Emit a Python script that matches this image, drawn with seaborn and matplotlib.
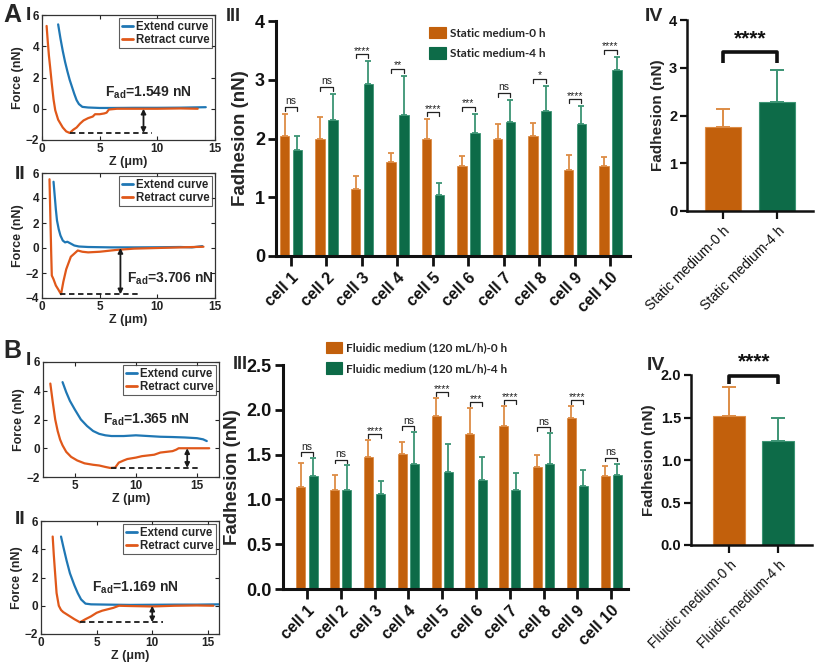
import numpy as np
import pandas as pd
import matplotlib
matplotlib.use('Agg')
import matplotlib.pyplot as plt
import seaborn as sns
from matplotlib.patches import Patch
from matplotlib.lines import Line2D

sns.set_theme(style='ticks', context='paper')
plt.rcParams['font.family'] = ['Liberation Sans', 'DejaVu Sans']
plt.rcParams['mathtext.fontset'] = 'custom'
plt.rcParams['mathtext.rm'] = 'Liberation Sans'
plt.rcParams['mathtext.bf'] = 'Liberation Sans:bold'
plt.rcParams['mathtext.it'] = 'Liberation Sans:italic'

# ---------------- data ----------------
# Force curves (Z in um, Force in nN)
ai_ext_z = [1.4, 1.6, 1.8, 2.0, 2.2, 2.4, 2.6, 2.8, 3.0, 3.2, 3.5, 4.0, 5.0, 6.0, 8.0, 10.0, 12.0, 14.2]
ai_ext_f = [5.4, 4.5, 3.7, 3.0, 2.4, 1.85, 1.4, 0.95, 0.55, 0.3, 0.12, 0.08, 0.05, 0.05, 0.06, 0.06, 0.07, 0.1]
ai_ret_z = [0.4, 0.5, 0.6, 0.7, 0.85, 1.0, 1.15, 1.4, 1.8, 2.1, 2.4, 2.7, 3.0, 3.3, 3.6, 4.0, 4.4, 4.6, 5.0, 5.4, 5.6, 5.8, 6.5, 8.0, 10.0, 12.0, 13.5]
ai_ret_f = [5.3, 4.3, 3.4, 2.7, 1.6, 0.6, -0.1, -0.7, -1.2, -1.45, -1.55, -1.35, -1.2, -0.95, -0.75, -0.6, -0.5, -0.35, -0.35, -0.3, -0.25, -0.05, 0.0, 0.0, 0.0, 0.02, 0.0]
ai_fad = 1.549

aii_ext_z = [1.0, 1.1, 1.2, 1.3, 1.45, 1.6, 1.8, 2.0, 2.2, 2.5, 2.8, 3.2, 4.0, 6.0, 8.0, 10.0, 12.0, 13.0, 13.9]
aii_ext_f = [5.3, 4.2, 3.1, 2.2, 1.5, 1.0, 0.6, 0.45, 0.5, 0.35, 0.2, 0.12, 0.08, 0.05, 0.05, 0.06, 0.08, 0.05, 0.15]
aii_ret_z = [0.65, 0.7, 0.75, 0.8, 0.85, 1.0, 1.2, 1.4, 1.65, 1.85, 2.1, 2.3, 2.5, 2.8, 3.1, 3.5, 4.0, 5.0, 5.5, 6.5, 8.0, 10.0, 12.0, 14.0]
aii_ret_f = [5.5, 3.5, 1.5, -0.5, -2.2, -2.5, -3.0, -3.3, -3.7, -2.7, -1.7, -1.2, -0.7, -0.45, -0.2, -0.3, -0.35, -0.3, -0.25, -0.15, -0.05, 0.0, 0.05, 0.1]
aii_fad = 3.706

bi_ext_z = [4.0, 4.3, 4.6, 5.0, 5.5, 6.0, 6.5, 7.0, 7.5, 8.0, 9.0, 10.0, 11.0, 12.0, 13.0, 14.0, 15.0, 15.5, 15.8]
bi_ext_f = [4.6, 3.9, 3.3, 2.7, 2.0, 1.55, 1.2, 1.0, 0.9, 0.85, 0.85, 0.9, 0.85, 0.8, 0.78, 0.75, 0.7, 0.62, 0.5]
bi_ret_z = [3.0, 3.2, 3.4, 3.6, 3.8, 4.0, 4.3, 4.7, 5.2, 5.8, 6.5, 7.0, 7.5, 7.9, 8.3, 8.6, 9.0, 9.3, 10.0, 10.5, 11.0, 11.5, 12.0, 12.5, 13.0, 13.3, 13.5, 14.0, 16.0]
bi_ret_f = [4.5, 3.2, 2.0, 1.2, 0.6, 0.2, -0.25, -0.6, -0.85, -1.05, -1.15, -1.2, -1.3, -1.37, -1.35, -1.0, -0.85, -0.75, -0.65, -0.55, -0.5, -0.45, -0.3, -0.25, -0.2, -0.1, 0.0, 0.0, 0.0]
bi_fad = 1.365

bii_ext_z = [1.8, 2.0, 2.3, 2.6, 3.0, 3.3, 3.6, 4.0, 4.5, 6.0, 8.0, 10.0, 12.0, 14.0, 16.0]
bii_ext_f = [4.9, 4.2, 3.2, 2.3, 1.45, 0.9, 0.45, 0.15, 0.1, 0.08, 0.06, 0.07, 0.08, 0.08, 0.1]
bii_ret_z = [1.05, 1.15, 1.25, 1.4, 1.6, 1.8, 2.0, 2.5, 3.0, 3.5, 4.0, 4.5, 5.0, 5.5, 6.0, 6.5, 7.0, 8.0, 10.0, 12.0, 14.0, 15.5]
bii_ret_f = [4.9, 3.6, 2.5, 0.9, 0.0, -0.3, -0.45, -0.7, -0.95, -1.17, -0.95, -0.75, -0.5, -0.35, -0.25, -0.15, 0.0, -0.02, -0.05, 0.0, 0.02, 0.0]
bii_fad = 1.169

# Bar charts
cells = ['cell 1', 'cell 2', 'cell 3', 'cell 4', 'cell 5', 'cell 6', 'cell 7', 'cell 8', 'cell 9', 'cell 10']

static_labels = ['Static medium-0 h', 'Static medium-4 h']
static_0h_mean = [2.05, 2.00, 1.14, 1.60, 2.00, 1.53, 2.00, 2.05, 1.47, 1.54]
static_0h_sd = [0.37, 0.37, 0.22, 0.16, 0.33, 0.17, 0.24, 0.22, 0.25, 0.14]
static_4h_mean = [1.80, 2.32, 2.93, 2.40, 1.04, 2.10, 2.28, 2.47, 2.25, 3.16]
static_4h_sd = [0.24, 0.44, 0.39, 0.67, 0.20, 0.32, 0.38, 0.43, 0.30, 0.23]
static_sig = ['ns', 'ns', '****', '**', '****', '***', 'ns', '*', '****', '****']

fluidic_labels = ['Fluidic medium (120 mL/h)-0 h', 'Fluidic medium (120 mL/h)-4 h']
fluidic_0h_mean = [1.14, 1.11, 1.47, 1.51, 1.93, 1.73, 1.82, 1.36, 1.91, 1.26]
fluidic_0h_sd = [0.27, 0.16, 0.19, 0.13, 0.20, 0.29, 0.22, 0.13, 0.13, 0.11]
fluidic_4h_mean = [1.26, 1.11, 1.06, 1.39, 1.31, 1.22, 1.10, 1.40, 1.15, 1.27]
fluidic_4h_sd = [0.20, 0.27, 0.14, 0.36, 0.31, 0.25, 0.20, 0.34, 0.18, 0.13]
fluidic_sig = ['ns', 'ns', '****', 'ns', '****', '***', '****', 'ns', '****', 'ns']

static_sum_labels = ['Static medium-0 h', 'Static medium-4 h']
static_sum_mean = [1.75, 2.29]
static_sum_sd = [0.39, 0.66]
static_sum_sig = '****'

fluidic_sum_labels = ['Fluidic medium-0 h', 'Fluidic medium-4 h']
fluidic_sum_mean = [1.52, 1.22]
fluidic_sum_sd = [0.34, 0.27]
fluidic_sum_sig = '****'

# ---------------- style ----------------
BLUE = '#1F77B4'
ORANGE_L = '#E0581A'
OR = '#C2600C'
GR = '#0D6B48'
OR_E = '#DD8C45'
GR_E = '#3C9474'

W, H = 817, 666
fig = plt.figure(figsize=(W / 100, H / 100), dpi=100)


def rect(l, t, r, b):
    return [l / W, 1 - b / H, (r - l) / W, (b - t) / H]


def force_panel(r, ez, ef, rz, rf, fad, xlim, ylim, xticks, yticks,
                dash_z, arrow_z, text_xy):
    ax = fig.add_axes(rect(*r))
    sns.lineplot(x=ez, y=ef, color=BLUE, lw=1.6, sort=False, estimator=None, ax=ax)
    sns.lineplot(x=rz, y=rf, color=ORANGE_L, lw=1.6, sort=False, estimator=None, ax=ax)
    ax.set_xlim(xlim)
    ax.set_ylim(ylim)
    ax.set_xticks(xticks)
    ax.set_yticks(yticks)
    ax.tick_params(direction='in', top=True, right=True, length=3, width=0.8,
                   labelsize=8.5, pad=2, colors='#222')
    for lab in ax.get_xticklabels() + ax.get_yticklabels():
        lab.set_fontweight('bold')
    for s in ax.spines.values():
        s.set_visible(True)
        s.set_linewidth(0.9)
        s.set_color('#333')
    ax.set_xlabel('Z (μm)', fontweight='bold', fontsize=9, labelpad=1)
    ax.set_ylabel('Force (nN)', fontweight='bold', fontsize=9, labelpad=1)
    handles = [Line2D([], [], color=BLUE, lw=2, label='Extend curve'),
               Line2D([], [], color=ORANGE_L, lw=2, label='Retract curve')]
    leg = ax.legend(handles=handles, loc='upper right', frameon=True, fancybox=False,
                    borderpad=0.2, labelspacing=0.1, handlelength=1.0, handletextpad=0.2,
                    borderaxespad=0.3, prop=dict(weight='bold', size=8.3))
    leg.get_frame().set_edgecolor('#333')
    leg.get_frame().set_linewidth(0.8)
    ax.plot(dash_z, [-fad, -fad], color='k', lw=1.3, ls=(0, (3, 2)))
    ax.annotate('', xy=(arrow_z, 0), xytext=(arrow_z, -fad),
                arrowprops=dict(arrowstyle='<|-|>', color='k', lw=1.3,
                                mutation_scale=7, shrinkA=0, shrinkB=0))
    ax.text(text_xy[0], text_xy[1], r'$\mathbf{F_{ad}}$=' + f'{fad:.3f} nN',
            fontweight='bold', fontsize=10, ha='left', va='center')
    return ax


force_panel((42, 15, 215, 140), ai_ext_z, ai_ext_f, ai_ret_z, ai_ret_f, ai_fad,
            (0, 15), (-2, 6), [0, 5, 10, 15], [-2, 0, 2, 4, 6],
            (2.4, 9.5), 8.8, (5.5, 1.0))
force_panel((42, 173, 215, 298), aii_ext_z, aii_ext_f, aii_ret_z, aii_ret_f, aii_fad,
            (0, 15), (-4, 6), [0, 5, 10, 15], [-4, -2, 0, 2, 4, 6],
            (1.6, 8.5), 6.8, (7.4, -2.5))
force_panel((43, 362, 219, 477), bi_ext_z, bi_ext_f, bi_ret_z, bi_ret_f, bi_fad,
            (2.4, 16.8), (-2, 6), [5, 10, 15], [-2, 0, 2, 4, 6],
            (8.0, 15.2), 14.2, (7.3, 2.0))
force_panel((41, 521, 219, 634), bii_ext_z, bii_ext_f, bii_ret_z, bii_ret_f, bii_fad,
            (0, 16), (-2, 6), [0, 5, 10, 15], [-2, 0, 2, 4, 6],
            (3.5, 11.0), 10.0, (4.6, 1.3))


def style_bar_axes(ax, ylw=2.2):
    sns.despine(ax=ax)
    for s in ['left', 'bottom']:
        ax.spines[s].set_linewidth(ylw)
        ax.spines[s].set_color('#111')


def bar_panel(r, m0, s0, m4, s4, sig, labs, ylim, yticks, yfmt, xlim, bracket_off, legend_anchor):
    ax = fig.add_axes(rect(*r))
    n = len(cells)
    df = pd.DataFrame({'cell': cells + cells,
                       'cond': [labs[0]] * n + [labs[1]] * n,
                       'val': m0 + m4})
    sns.barplot(data=df, x='cell', y='val', hue='cond', palette=[OR, GR], saturation=1,
                errorbar=None, width=0.72, gap=0.26, legend=False, ax=ax)
    centers = []
    for cont, means, sds, col, ecol in zip(ax.containers, [m0, m4], [s0, s4], [OR, GR], [OR_E, GR_E]):
        xs = []
        for p in cont:
            p.set_edgecolor(ecol)
            p.set_linewidth(0.6)
            xs.append(p.get_x() + p.get_width() / 2)
        centers.append(xs)
        ax.errorbar(xs, means, yerr=[np.zeros(n), sds], fmt='none', ecolor=ecol,
                    elinewidth=1.3, capsize=2.4, capthick=1.3, zorder=1)
    for i in range(n):
        top = max(m0[i] + s0[i], m4[i] + s4[i]) + bracket_off
        x1, x2 = centers[0][i], centers[1][i]
        h = bracket_off * 0.6
        ax.plot([x1, x1, x2, x2], [top - h, top, top, top - h], color='#222', lw=0.9, clip_on=False)
        if sig[i] == 'ns':
            ax.text((x1 + x2) / 2, top + bracket_off * 0.1, 'ns', ha='center', va='bottom',
                    fontsize=7.5, color='#222')
        else:
            ax.text((x1 + x2) / 2, top - bracket_off * 0.25, sig[i], ha='center', va='bottom',
                    fontsize=7.5, color='#222')
    ax.set_xlim(xlim)
    ax.set_ylim(ylim)
    ax.set_yticks(yticks)
    ax.set_yticklabels([yfmt.format(v) for v in yticks], fontweight='bold', fontsize=13)
    ax.set_xticks(range(n))
    ax.set_xticklabels(cells, rotation=45, ha='right', rotation_mode='anchor',
                       fontweight='bold', fontsize=11.5)
    ax.tick_params(axis='x', length=7, width=2, pad=3, colors='#111')
    ax.tick_params(axis='y', length=6, width=2, pad=2, colors='#111')
    ax.set_xlabel('')
    ax.set_ylabel('Fadhesion (nN)', fontweight='bold', fontsize=13.5, labelpad=4)
    style_bar_axes(ax)
    handles = [Patch(facecolor=OR, edgecolor=OR, label=labs[0]),
               Patch(facecolor=GR, edgecolor=GR, label=labs[1])]
    ax.legend(handles=handles, loc='upper left', bbox_to_anchor=legend_anchor, frameon=False,
              handlelength=1.4, handleheight=1.1, labelspacing=0.75, handletextpad=0.35,
              borderaxespad=0, prop=dict(weight='bold', size=8.5, family='Lato'))
    return ax


bar_panel((276, 21, 630, 256), static_0h_mean, static_0h_sd, static_4h_mean, static_4h_sd,
          static_sig, static_labels, (0, 4), [0, 1, 2, 3, 4], '{:.0f}', (-0.42, 9.55), 0.12,
          (0.42, 0.995))
bar_panel((283, 365, 628, 589), fluidic_0h_mean, fluidic_0h_sd, fluidic_4h_mean, fluidic_4h_sd,
          fluidic_sig, fluidic_labels, (0, 2.5), [0, 0.5, 1.0, 1.5, 2.0, 2.5], '{:.1f}',
          (-0.71, 9.5), 0.065, (0.11, 1.125))


def summary_panel(r, labels, means, sds, sig, ylim, yticks, yfmt, xlim, br_y, br_h, star_y):
    ax = fig.add_axes(rect(*r))
    sns.barplot(x=labels, y=means, hue=labels, palette=[OR, GR], saturation=1,
                width=0.66, legend=False, errorbar=None, ax=ax)
    xs = []
    for cont, ecol in zip(ax.containers, [OR_E, GR_E]):
        for p in cont:
            p.set_edgecolor(ecol)
            p.set_linewidth(0.8)
            xs.append(p.get_x() + p.get_width() / 2)
    for x, m, s, ecol in zip(xs, means, sds, [OR_E, GR_E]):
        ax.errorbar([x], [m], yerr=[[0], [s]], fmt='none', ecolor=ecol, elinewidth=1.4,
                    capsize=5, capthick=1.4, zorder=1)
    ax.plot([xs[0], xs[0], xs[1], xs[1]], [br_y - br_h, br_y, br_y, br_y - br_h],
            color='#111', lw=2.6, clip_on=False, solid_capstyle='butt')
    ax.text((xs[0] + xs[1]) / 2, star_y, sig, ha='center', va='center', fontsize=15,
            fontweight='bold', color='#111')
    ax.set_xlim(xlim)
    ax.set_ylim(ylim)
    ax.set_yticks(yticks)
    ax.set_yticklabels([yfmt.format(v) for v in yticks], fontsize=10.5, fontweight='bold')
    ax.set_xticks([0, 1])
    ax.set_xticklabels(labels, rotation=45, ha='right', rotation_mode='anchor', fontsize=10)
    ax.tick_params(axis='x', length=6, width=1.6, pad=3, colors='#111')
    ax.tick_params(axis='y', length=5, width=1.6, pad=2, colors='#111')
    ax.set_xlabel('')
    ax.set_ylabel('Fadhesion (nN)', fontweight='bold', fontsize=11, labelpad=3)
    style_bar_axes(ax, 1.8)
    return ax


summary_panel((687, 20, 813, 211), static_sum_labels, static_sum_mean, static_sum_sd, static_sum_sig,
              (0, 4), [0, 1, 2, 3, 4], '{:.0f}', (-0.65, 1.65), 3.34, 0.25, 3.6)
summary_panel((691, 375, 812, 545), fluidic_sum_labels, fluidic_sum_mean, fluidic_sum_sd, fluidic_sum_sig,
              (0, 2.0), [0, 0.5, 1.0, 1.5, 2.0], '{:.1f}', (-0.78, 1.69), 1.99, 0.1, 2.15)

# panel labels
fig.text(3 / W, 1 - 3 / H, 'A', fontsize=18, fontweight='bold', va='top')
fig.text(26 / W, 1 - 7 / H, 'I', fontsize=14, fontweight='bold', va='top')
fig.text(15 / W, 1 - 166 / H, 'II', fontsize=14, fontweight='bold', va='top')
fig.text(3 / W, 1 - 339 / H, 'B', fontsize=18, fontweight='bold', va='top')
fig.text(26 / W, 1 - 352 / H, 'I', fontsize=14, fontweight='bold', va='top')
fig.text(15 / W, 1 - 511 / H, 'II', fontsize=14, fontweight='bold', va='top')
fig.text(226 / W, 1 - 8 / H, 'III', fontsize=13, fontweight='bold', va='top')
fig.text(233 / W, 1 - 356 / H, 'III', fontsize=13, fontweight='bold', va='top')
fig.text(645 / W, 1 - 8 / H, 'IV', fontsize=14, fontweight='bold', va='top')
fig.text(647 / W, 1 - 357 / H, 'IV', fontsize=14, fontweight='bold', va='top')

fig.savefig('out.png', dpi=100)
